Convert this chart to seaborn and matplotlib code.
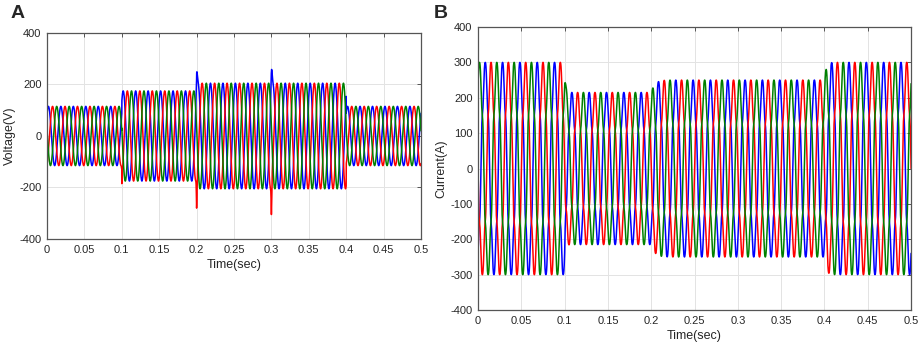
# -*- coding: utf-8 -*-

## Libraries ##

import numpy as np
import pandas as pd
import matplotlib
matplotlib.use("Agg")
import matplotlib.pyplot as plt
import seaborn as sns

## Data ##

n_samples = 8001

# panel A : phase voltages
volt_freq_hz = 60
volt_edges = [0.0, 0.1, 0.2, 0.4, 0.5]
volt_amp = [115, 175, 205, 115]
volt_phase_deg = {"blue": 50, "red": -70, "green": 170}
volt_spike_t = [0.1, 0.2, 0.3]
volt_spike_blue = [None, 240, 250]
volt_spike_red = [-185, -280, -305]
spike_width = {"blue": 1.2e-3, "red": 5e-4}

# panel B : phase currents
curr_freq_hz = 50
curr_edges = [0.0, 0.1, 0.2, 0.4, 0.5]
curr_amp = [300, 215, 250, 300]
curr_tau = [0.0, 0.001, 0.004, 0.002]   # settling of each step
curr_phase_deg = {"blue": -60, "red": 180, "green": 60}
curr_harm = {5: 0.08, 7: 0.04}

colors = {"blue": "#0000ff", "red": "#ff0000", "green": "#008000"}
phase_order = ["blue", "red", "green"]

x_ticks = [0, 0.05, 0.1, 0.15, 0.2, 0.25, 0.3, 0.35, 0.4, 0.45, 0.5]
x_tick_labels = ["0", "0.05", "0.1", "0.15", "0.2", "0.25", "0.3", "0.35", "0.4", "0.45", "0.5"]
y_ticks_a = [-400, -200, 0, 200, 400]
y_ticks_b = [-400, -300, -200, -100, 0, 100, 200, 300, 400]

## Build waveforms ##

t = np.linspace(0, 0.5, n_samples)


def envelope(edges, amps, taus=None):
    env = np.full_like(t, float(amps[0]))
    for k in range(1, len(amps)):
        on = t >= edges[k]
        tau = taus[k] if taus else 0.0
        if tau > 0:
            step = 1 - np.exp(-(t[on] - edges[k]) / tau)
        else:
            step = 1.0
        env[on] = env[on] + (amps[k] - amps[k - 1]) * step
    return env


env_v = envelope(volt_edges, volt_amp)
w_v = 2 * np.pi * volt_freq_hz
rows = []
for ph in phase_order:
    phi = np.deg2rad(volt_phase_deg[ph])
    v = env_v * np.sin(w_v * t + phi)
    peaks = {"blue": volt_spike_blue, "red": volt_spike_red}.get(ph, [])
    for ts, pk in zip(volt_spike_t, peaks):
        if pk is None:
            continue
        amp_after = volt_amp[np.searchsorted(volt_edges, ts + 1e-9) - 1]
        base = amp_after * np.sin(w_v * ts + phi)
        v = v + (pk - base) * np.exp(-((t - ts) / spike_width[ph]) ** 2)
    rows.append(pd.DataFrame({"t": t, "val": v, "phase": ph}))
df_volt = pd.concat(rows, ignore_index=True)

env_i = envelope(curr_edges, curr_amp, curr_tau)
w_i = 2 * np.pi * curr_freq_hz
tt = np.linspace(0, 1 / curr_freq_hz, 500)
shape_max = np.max(np.sin(w_i * tt) + sum(a * np.sin(k * w_i * tt) for k, a in curr_harm.items()))
rows = []
for ph in phase_order:
    arg = w_i * t + np.deg2rad(curr_phase_deg[ph])
    s = np.sin(arg) + sum(a * np.sin(k * arg) for k, a in curr_harm.items())
    rows.append(pd.DataFrame({"t": t, "val": env_i * s / shape_max, "phase": ph}))
df_curr = pd.concat(rows, ignore_index=True)

## Plot ##

sns.set_style("white")
plt.rcParams["font.family"] = ["Liberation Sans", "DejaVu Sans"]
plt.rcParams["axes.unicode_minus"] = False

fig = plt.figure(figsize=(9.2, 3.49), dpi=100)
ax_a = fig.add_axes([0.0511, 0.3152, 0.4065, 0.5903])
ax_b = fig.add_axes([0.5196, 0.1117, 0.4707, 0.8109])

for ax, df, yt, ylab in [(ax_a, df_volt, y_ticks_a, "Voltage(V)"),
                         (ax_b, df_curr, y_ticks_b, "Current(A)")]:
    sns.lineplot(data=df, x="t", y="val", hue="phase", hue_order=phase_order,
                 palette=colors, estimator=None, sort=False, legend=False,
                 linewidth=1.1, ax=ax)
    ax.set_xlim(0, 0.5)
    ax.set_ylim(yt[0], yt[-1])
    ax.set_xticks(x_ticks)
    ax.set_xticklabels(x_tick_labels)
    ax.set_yticks(yt)
    ax.grid(True, color="#e3e3e3", linewidth=0.7)
    ax.set_axisbelow(True)
    for sp in ax.spines.values():
        sp.set_color("#555555")
        sp.set_linewidth(0.9)
    ax.tick_params(direction="in", length=3, width=0.7, color="#555555",
                   labelsize=8, labelcolor="#262626", top=True, right=True, pad=4)
    ax.set_xlabel("Time(sec)", fontsize=9, color="#262626", labelpad=3)
    ax.set_ylabel(ylab, fontsize=9, color="#262626", labelpad=2)

fig.text(0.011, 0.985, "A", fontsize=14, fontweight="bold", va="top")
fig.text(0.472, 0.985, "B", fontsize=14, fontweight="bold", va="top")

plt.savefig("out.png", dpi=100)
